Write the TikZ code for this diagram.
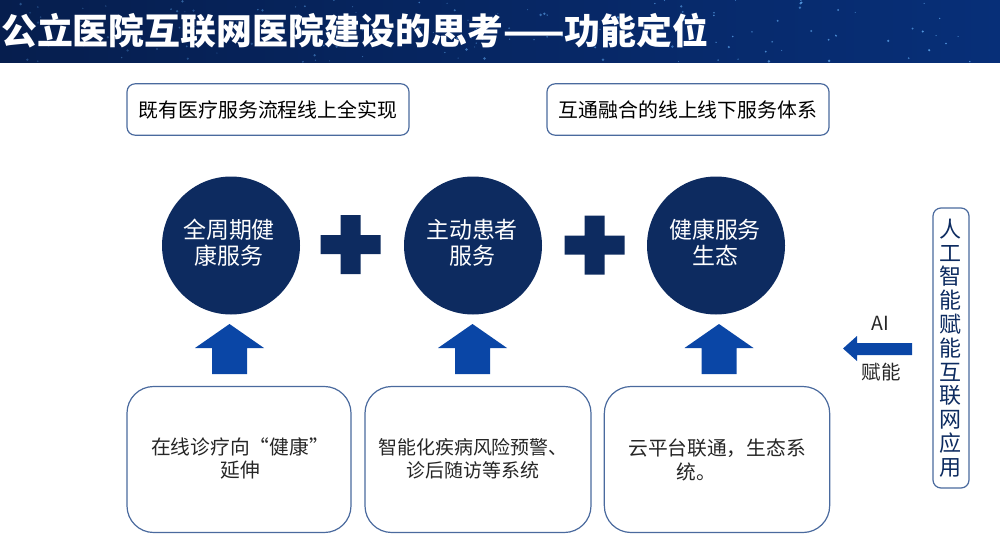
\documentclass[tikz,border=0pt]{standalone}
\usepackage{fontspec}
\setmainfont{Noto Sans CJK SC}
\definecolor{navy}{HTML}{0D2B60}
\definecolor{arrowblue}{HTML}{0A46A6}
\definecolor{edgeblue}{HTML}{4A6A9E}
\definecolor{bannerdark}{HTML}{061E4E}
\definecolor{bannermid}{HTML}{0A4CA6}
\definecolor{bannerend}{HTML}{072F78}
\definecolor{stardot}{HTML}{5FA8F0}
\tikzset{
  planbox/.style={draw=edgeblue, line width=0.9pt, fill=white, rounded corners=6pt, inner sep=0pt},
  stagebox/.style={planbox, rounded corners=20pt},
  goal/.style={circle, fill=navy, minimum size=103.5pt, inner sep=0pt},
  goaltext/.style={text=white, inner sep=0pt, font=\fontsize{17.2}{19.5}\selectfont, align=center},
  bodytext/.style={font=\fontsize{14.8}{17.2}\selectfont, text=black!85, align=center, inner sep=0pt}
}
\begin{document}
\begin{tikzpicture}[x=0.75pt, y=-0.75pt, >=stealth]
    \useasboundingbox (0, 0) rectangle (1000, 546);

    % banner
    \fill[left color=bannerdark, middle color=bannermid, right color=bannerend] (0, 0) rectangle (1000, 62);
    \pgfmathsetseed{41}
    \foreach \i in {1, ..., 150} {
      \pgfmathsetmacro{\px}{rnd*1000}
      \pgfmathsetmacro{\py}{rnd*62}
      \pgfmathsetmacro{\pr}{0.5+rnd*0.9}
      \pgfmathsetmacro{\po}{0.2+0.5*\px/1000+rnd*0.2}
      \fill[stardot, opacity=\po] (\px, \py) circle (\pr);
    }
    \node[anchor=west, inner sep=0pt, text=white, font=\fontsize{26.9}{30}\selectfont\bfseries] (title) at (1, 30.5) {公立医院互联网医院建设的思考——功能定位};

    % top labels
    \node[planbox, minimum width=211.5pt, minimum height=38.5pt, font=\fontsize{14.9}{17}\selectfont] (onlineflow) at (268, 109.5) {既有医疗服务流程线上全实现};
    \node[planbox, minimum width=211.5pt, minimum height=38.5pt, font=\fontsize{14.9}{17}\selectfont] (servicenet) at (688, 109.5) {互通融合的线上线下服务体系};

    % circles
    \node[goal] (fullcycle) at (231, 245.5) {};
    \node[goal] (activecare) at (473, 245.5) {};
    \node[goal] (ecosystem) at (716, 245.5) {};
    \node[goaltext] (fullcycletext) at (229, 242.5) {全周期健\\康服务};
    \node[goaltext] (activetext) at (472, 242.5) {主动患者\\服务};
    \node[goaltext] (ecotext) at (715, 242.5) {健康服务\\生态};

    % plus signs
    \foreach \x/\y in {350.5/244.5, 594.5/245} {
      \begin{scope}[shift={(\x, \y)}]
        \fill[navy] (-30, -9.5) -- (-10, -9.5) -- (-10, -29.5) -- (10, -29.5) -- (10, -9.5) -- (30, -9.5)
          -- (30, 9.5) -- (10, 9.5) -- (10, 29.5) -- (-10, 29.5) -- (-10, 9.5) -- (-30, 9.5) -- cycle;
      \end{scope}
    }

    % up arrows
    \foreach \x in {229.5, 472.5, 719} {
      \begin{scope}[shift={(\x, 0)}]
        \fill[arrowblue] (0, 324) -- (34.5, 348) -- (17.5, 348) -- (17.5, 374) -- (-17.5, 374) -- (-17.5, 348) -- (-34.5, 348) -- cycle;
      \end{scope}
    }

    % bottom boxes
    \node[stagebox, minimum width=168pt, minimum height=109.5pt] (onlinecare) at (239, 459.5) {};
    \node[stagebox, minimum width=169.5pt, minimum height=109.5pt] (smartcare) at (478, 459.5) {};
    \node[stagebox, minimum width=169pt, minimum height=109.5pt] (cloudcare) at (717, 459.5) {};
    \node[bodytext] (onlinetext) at (240, 458.5) {在线诊疗向“健康”\\延伸};
    \node[bodytext, font=\fontsize{14.2}{17.2}\selectfont] (smarttext) at (473, 458.5) {智能化疾病风险预警、\\诊后随访等系统};
    \node[bodytext, anchor=west] (cloudtext) at (628, 448) {云平台联通，生态系};
    \node[bodytext, anchor=west] (cloudrest) at (676, 472) {统。};

    % right side
    \node[planbox, minimum width=27pt, minimum height=210pt] (aibox) at (951, 348) {};
    \node[align=center, inner sep=0pt, text=navy, font=\fontsize{16.5}{17.85}\selectfont] (aitext) at (950, 348) {人\\工\\智\\能\\赋\\能\\互\\联\\网\\应\\用};
    \fill[arrowblue] (843, 348.5) -- (857, 336) -- (857, 343) -- (912, 343) -- (912, 355) -- (857, 355) -- (857, 361) -- cycle;
    \node[inner sep=0pt, text=black!85, font=\fontsize{14.6}{17}\selectfont] (ailabel) at (880, 323) {AI};
    \node[inner sep=0pt, text=black!85, font=\fontsize{14.6}{17}\selectfont] (enable) at (881, 372) {赋能};
\end{tikzpicture}
\end{document}
